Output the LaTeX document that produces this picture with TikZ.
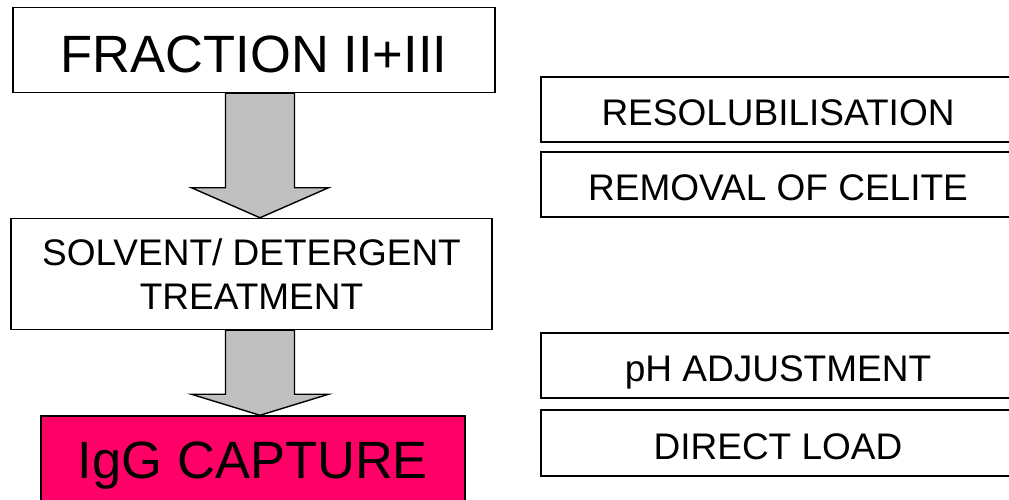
\documentclass[tikz,border=0pt]{standalone}
\usepackage{fontspec}
\setmainfont{Liberation Sans}
\usetikzlibrary{calc}
\definecolor{capturered}{HTML}{FF0066}
\definecolor{arrowgrey}{HTML}{C0C0C0}
\tikzset{
  stepbox/.style={draw=black, line width=1.5pt, fill=white, rectangle, inner sep=0pt, align=center},
  bigtext/.style={font=\fontsize{52.5}{60}\selectfont},
  midtext/.style={font=\fontsize{37}{44}\selectfont},
  sidebox/.style={stepbox, midtext, minimum width=474pt, text height=32.5pt, text depth=0pt},
  fatarrow/.style={draw=black, line width=1.4pt, fill=arrowgrey, line join=miter}
}
\begin{document}
\begin{tikzpicture}[x=1pt,y=-1pt]
\useasboundingbox (0,0) rectangle (1009,499);
\clip (0,0) rectangle (1009,499);
\fill[white] (0,0) rectangle (1009,499);
% left column
\node[stepbox, bigtext, minimum width=482pt, minimum height=85pt, text height=44pt, text depth=0pt] (frac) at (254,50) {FRACTION II+III};
\node[stepbox, midtext, minimum width=481pt, minimum height=111pt] (sd) at (251.5,274) {SOLVENT/ DETERGENT\\TREATMENT};
\node[stepbox, fill=capturered, minimum width=424pt, minimum height=110pt] (cap) at (253,471) {};
\node[bigtext, anchor=base, inner sep=0pt] (captxt) at (253,478) {IgG CAPTURE};
% arrows
\coordinate (a1top) at ($(frac.south)+(6,0)$);
\coordinate (a1tip) at ($(sd.north)+(8.5,0)$);
\draw[fatarrow] ($(a1top)+(-34.5,0)$) -- ($(a1top)+(34.5,0)$) -- ($(a1tip)+(34.5,-30)$) -- ($(a1tip)+(68.5,-30)$) -- (a1tip) -- ($(a1tip)+(-68.5,-30)$) -- ($(a1tip)+(-34.5,-30)$) -- cycle;
\coordinate (a2top) at ($(sd.south)+(8.5,0)$);
\coordinate (a2tip) at ($(cap.north)+(7,0)$);
\draw[fatarrow] ($(a2top)+(-34.5,0)$) -- ($(a2top)+(34.5,0)$) -- ($(a2tip)+(34.5,-21)$) -- ($(a2tip)+(68.5,-21)$) -- (a2tip) -- ($(a2tip)+(-68.5,-21)$) -- ($(a2tip)+(-34.5,-21)$) -- cycle;
% right column
\node[sidebox, minimum height=65pt] (res) at (778,109.5) {RESOLUBILISATION};
\node[sidebox, minimum height=65pt] (cel) at (778,184.5) {REMOVAL OF CELITE};
\node[sidebox, minimum height=65pt] (ph) at (778,365.5) {pH ADJUSTMENT};
\node[sidebox, minimum height=66pt] (dl) at (778,443) {DIRECT LOAD};
\end{tikzpicture}
\end{document}
